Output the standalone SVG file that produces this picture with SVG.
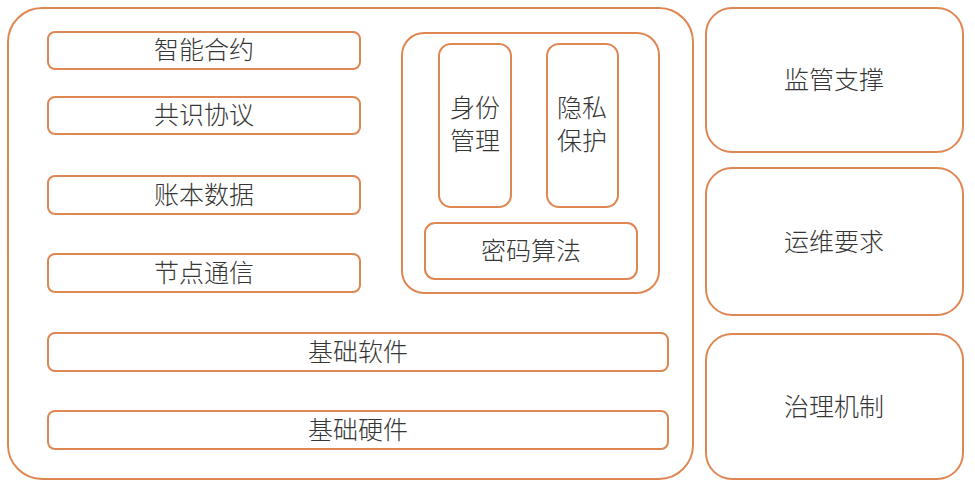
<svg xmlns="http://www.w3.org/2000/svg" width="975" height="493" viewBox="0 0 975 493">
<style>
.box{fill:#ffffff;stroke:#DE8753;stroke-width:2}
.t{font-family:"Noto Sans CJK SC","Liberation Sans",sans-serif;font-size:25px;font-weight:300;fill:#363636;text-anchor:middle;dominant-baseline:central}
</style>
<rect width="975" height="493" fill="#ffffff"/>
<g id="main">
<rect class="box" x="8" y="8" width="685" height="471" rx="34"/>
</g>
<g id="n-contract"><rect class="box" x="48" y="32" width="312" height="37" rx="7"/><text class="t" x="204" y="48">智能合约</text></g>
<g id="n-consensus"><rect class="box" x="48" y="97" width="312" height="37" rx="7"/><text class="t" x="204" y="113">共识协议</text></g>
<g id="n-ledger"><rect class="box" x="48" y="176" width="312" height="38" rx="7"/><text class="t" x="204" y="193">账本数据</text></g>
<g id="n-comm"><rect class="box" x="48" y="254" width="312" height="38" rx="7"/><text class="t" x="204" y="271">节点通信</text></g>
<g id="security">
<rect class="box" x="402" y="33" width="257" height="260" rx="22"/>
</g>
<g id="n-identity"><rect class="box" x="439" y="44" width="72" height="163" rx="12"/><text class="t" x="475" y="106">身份</text><text class="t" x="475" y="139">管理</text></g>
<g id="n-privacy"><rect class="box" x="547" y="44" width="71" height="163" rx="12"/><text class="t" x="582" y="106">隐私</text><text class="t" x="582" y="139">保护</text></g>
<g id="n-crypto"><rect class="box" x="425" y="223" width="212" height="56" rx="10"/><text class="t" x="531" y="249">密码算法</text></g>
<g id="n-software"><rect class="box" x="48" y="333" width="620" height="38" rx="7"/><text class="t" x="358" y="350">基础软件</text></g>
<g id="n-hardware"><rect class="box" x="48" y="411" width="620" height="38" rx="7"/><text class="t" x="358" y="428">基础硬件</text></g>
<g id="n-supervision"><rect class="box" x="706" y="8" width="257" height="144" rx="26"/><text class="t" x="834" y="78">监管支撑</text></g>
<g id="n-ops"><rect class="box" x="706" y="168" width="257" height="147" rx="26"/><text class="t" x="834" y="240">运维要求</text></g>
<g id="n-governance"><rect class="box" x="706" y="334" width="257" height="145" rx="26"/><text class="t" x="834" y="405">治理机制</text></g>
<g id="connectors"></g>
</svg>
